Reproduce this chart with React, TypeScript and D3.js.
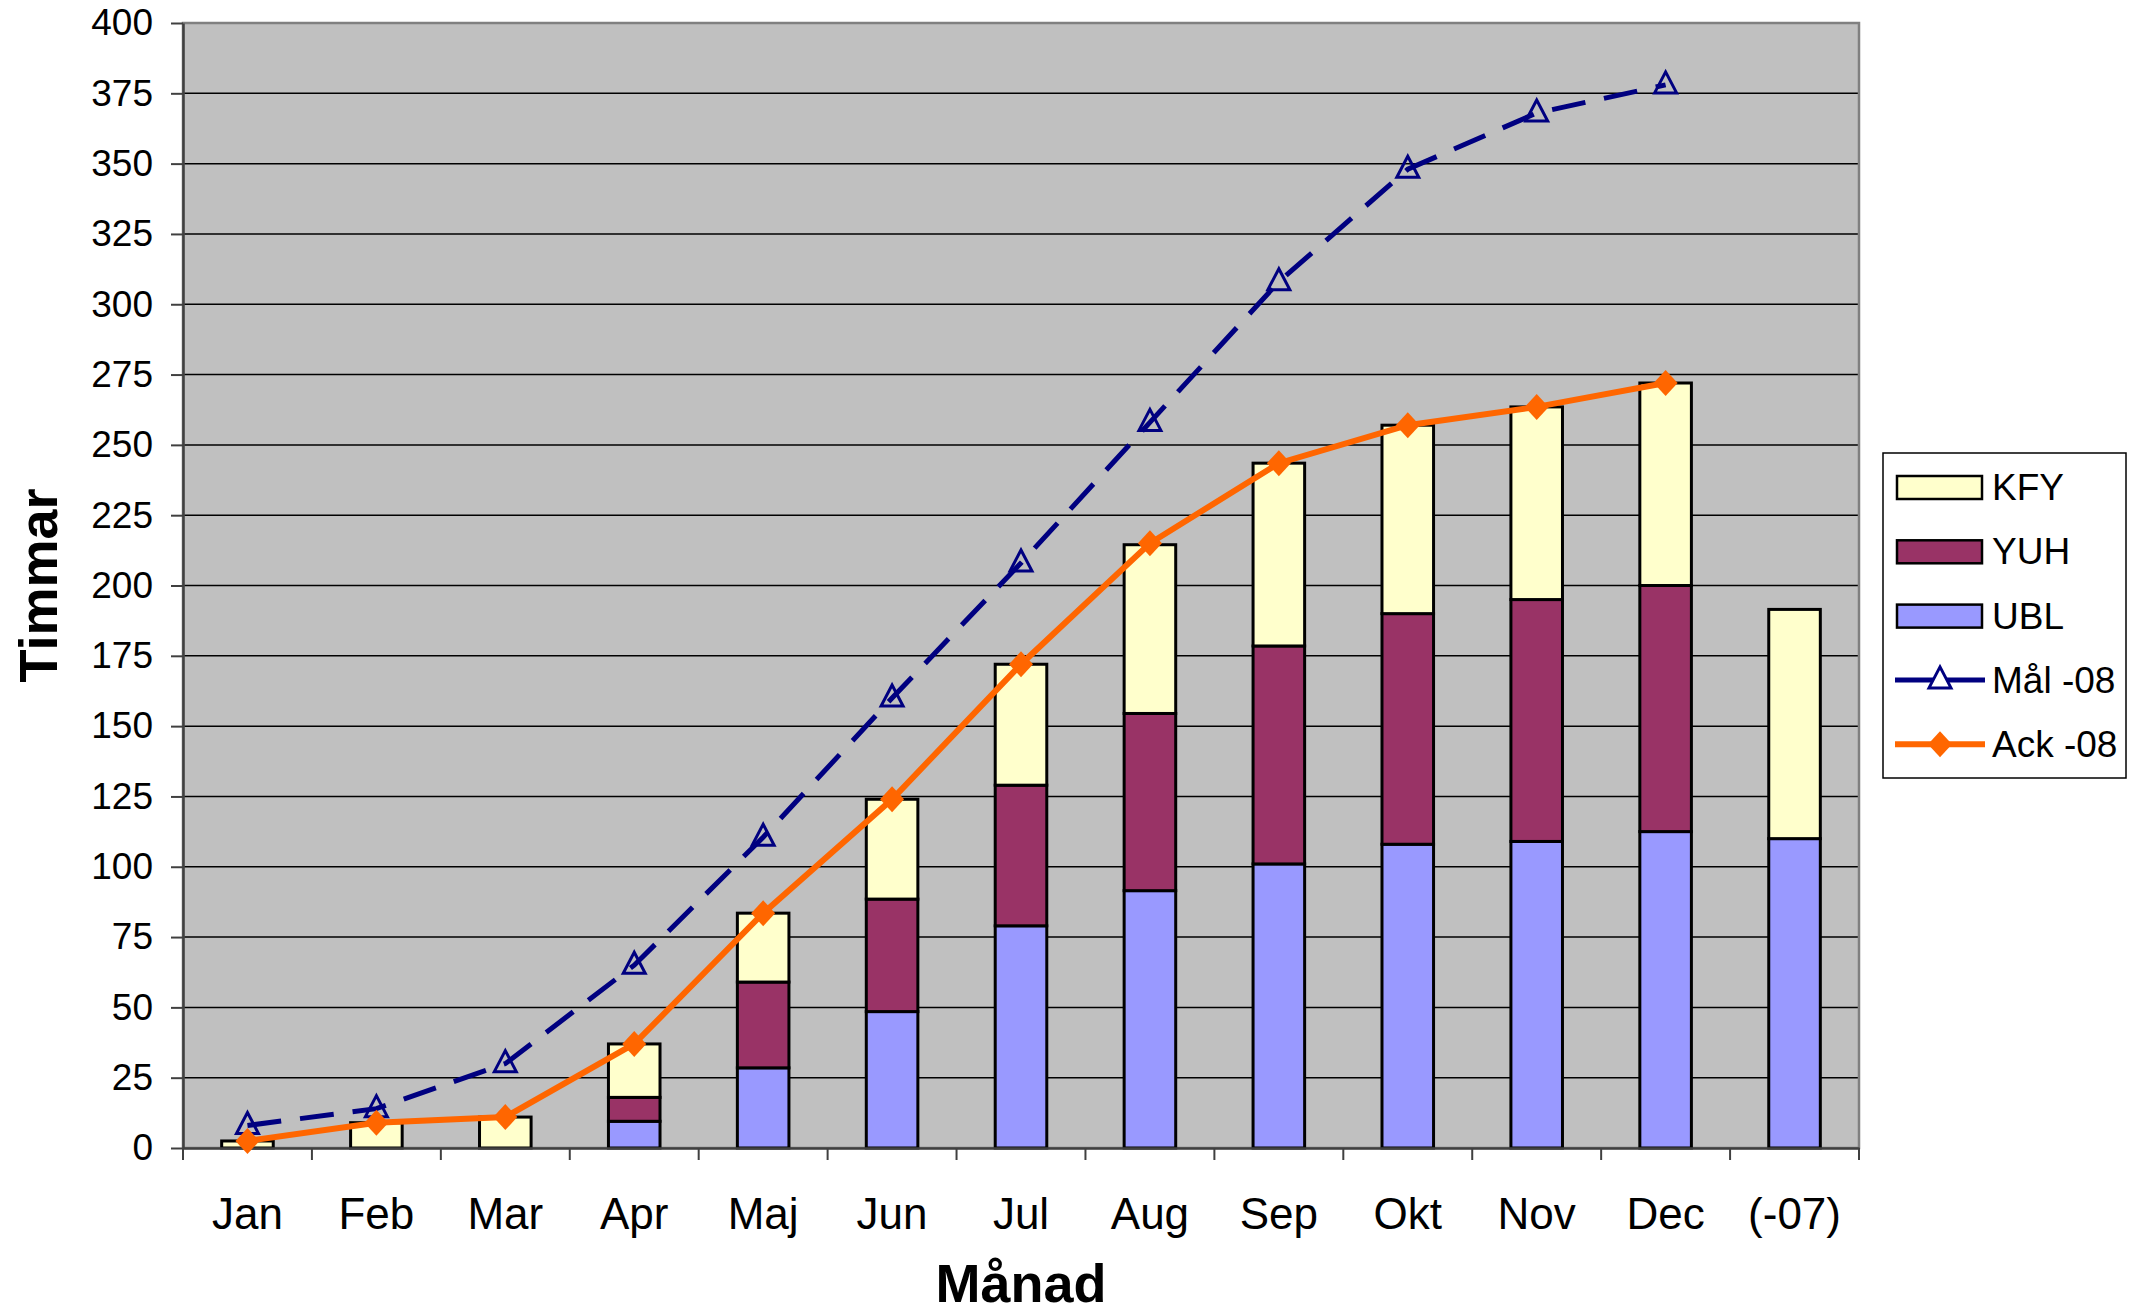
import React, { useEffect, useRef } from 'react';
import * as d3 from 'd3';

// categories and series (hours)
const months = ['Jan', 'Feb', 'Mar', 'Apr', 'Maj', 'Jun', 'Jul', 'Aug', 'Sep', 'Okt', 'Nov', 'Dec', '(-07)'];
const ubl = [0, 0, 0, 9.5, 28.5, 48.5, 79, 91.5, 101, 108, 109, 112.5, 110];
const yuh = [0, 0, 0, 8.5, 30.5, 40, 50, 63, 77.5, 82, 86, 87.5, 0];
const kfy = [2.5, 9, 11, 19, 24.5, 35.5, 43, 60, 65, 67, 68.5, 72, 81.5];
const mal08 = [8, 14, 30, 65, 110.5, 160, 208, 258, 308, 348, 368, 378];
const ack08 = [2.5, 9, 11, 37, 83.5, 124, 172, 215, 243.5, 257, 263.5, 272];
const yTicks = d3.range(0, 401, 25);

const W = 2129;
const H = 1313;
const FONT = '"Liberation Sans", Arial, sans-serif';

const App = () => {
  const svgRef = useRef<SVGSVGElement>(null);

  useEffect(() => {
    const svg = d3.select(svgRef.current);
    svg.selectAll('*').remove();

    const left = 183, top = 23, right = 1859, bottom = 1148;

    const x = d3.scaleBand().domain(months).range([left, right]).paddingInner(0).paddingOuter(0);
    const y = d3.scaleLinear().domain([0, 400]).range([bottom, top]);
    const barW = x.bandwidth() / 2.5;
    const cx = (i: number) => (x(months[i]) as number) + x.bandwidth() / 2;

    // plot background
    svg.append('rect')
      .attr('x', left).attr('y', top)
      .attr('width', right - left).attr('height', bottom - top)
      .attr('fill', '#C0C0C0');

    // gridlines
    svg.append('g')
      .selectAll('line')
      .data(yTicks.slice(1))
      .enter()
      .append('line')
      .attr('x1', left).attr('x2', right)
      .attr('y1', d => y(d)).attr('y2', d => y(d))
      .attr('stroke', '#000').attr('stroke-width', 1.5);

    // plot border
    svg.append('rect')
      .attr('x', left).attr('y', top)
      .attr('width', right - left).attr('height', bottom - top)
      .attr('fill', 'none').attr('stroke', '#808080').attr('stroke-width', 2.5);

    // stacked bars
    const rows = months.map((m, i) => ({ month: m, UBL: ubl[i], YUH: yuh[i], KFY: kfy[i] }));
    const keys = ['UBL', 'YUH', 'KFY'];
    const colors: Record<string, string> = { UBL: '#9999FF', YUH: '#993366', KFY: '#FFFFCC' };
    const stacked = d3.stack<any>().keys(keys)(rows);

    stacked.forEach(layer => {
      svg.append('g')
        .selectAll('rect')
        .data(layer.filter(d => d[1] - d[0] > 0))
        .enter()
        .append('rect')
        .attr('x', d => (x(d.data.month) as number) + (x.bandwidth() - barW) / 2)
        .attr('y', d => y(d[1]))
        .attr('width', barW)
        .attr('height', d => y(d[0]) - y(d[1]))
        .attr('fill', colors[layer.key])
        .attr('stroke', '#000')
        .attr('stroke-width', 3);
    });

    // axes
    const yAxis = d3.axisLeft(y).tickValues(yTicks).tickSize(12).tickSizeOuter(0).tickPadding(18);
    const gy = svg.append('g').attr('transform', `translate(${left},0)`).call(yAxis);
    gy.select('.domain').attr('stroke', '#404040').attr('stroke-width', 2.5);
    gy.selectAll('.tick line').attr('stroke', '#404040').attr('stroke-width', 2);
    gy.selectAll('.tick text').attr('font-family', FONT).attr('font-size', 37).attr('fill', '#000');

    const xAxis = d3.axisBottom(x).tickSize(0).tickPadding(50);
    const gx = svg.append('g').attr('transform', `translate(0,${bottom})`).call(xAxis);
    gx.select('.domain').attr('stroke', '#404040').attr('stroke-width', 2.5);
    gx.selectAll('.tick text').attr('font-family', FONT).attr('font-size', 44).attr('fill', '#000');

    // x tick marks at category boundaries
    svg.append('g')
      .selectAll('line')
      .data(d3.range(months.length + 1))
      .enter()
      .append('line')
      .attr('x1', i => left + i * x.step()).attr('x2', i => left + i * x.step())
      .attr('y1', bottom).attr('y2', bottom + 12)
      .attr('stroke', '#404040').attr('stroke-width', 2);

    // lines
    const line = d3.line<number>()
      .x((d, i) => cx(i))
      .y(d => y(d));

    const triangle = (px: number, py: number) =>
      `M${px},${py - 13}L${px + 11},${py + 8}L${px - 11},${py + 8}Z`;
    const diamond = (px: number, py: number) =>
      `M${px},${py - 13}L${px + 12},${py}L${px},${py + 13}L${px - 12},${py}Z`;

    svg.append('g')
      .selectAll('path')
      .data(mal08)
      .enter()
      .append('path')
      .attr('d', (d, i) => triangle(cx(i), y(d)))
      .attr('fill', 'none')
      .attr('stroke', '#000080')
      .attr('stroke-width', 3);

    svg.append('path')
      .datum(mal08)
      .attr('d', line)
      .attr('fill', 'none')
      .attr('stroke', '#000080')
      .attr('stroke-width', 5)
      .attr('stroke-dasharray', '34,19');

    svg.append('path')
      .datum(ack08)
      .attr('d', line)
      .attr('fill', 'none')
      .attr('stroke', '#FF6600')
      .attr('stroke-width', 6);

    svg.append('g')
      .selectAll('path')
      .data(ack08)
      .enter()
      .append('path')
      .attr('d', (d, i) => diamond(cx(i), y(d)))
      .attr('fill', '#FF6600');

    // axis titles
    svg.append('text')
      .attr('x', (left + right) / 2).attr('y', 1302)
      .attr('text-anchor', 'middle')
      .attr('font-family', FONT).attr('font-size', 54).attr('font-weight', 'bold')
      .text('Månad');

    svg.append('text')
      .attr('transform', `translate(57,${(top + bottom) / 2}) rotate(-90)`)
      .attr('text-anchor', 'middle')
      .attr('font-family', FONT).attr('font-size', 54).attr('font-weight', 'bold')
      .text('Timmar');

    // legend
    const lg = svg.append('g');
    lg.append('rect')
      .attr('x', 1883).attr('y', 453).attr('width', 243).attr('height', 325)
      .attr('fill', '#fff').attr('stroke', '#000').attr('stroke-width', 1.5);

    const items = [
      { name: 'KFY', type: 'bar', color: colors.KFY },
      { name: 'YUH', type: 'bar', color: colors.YUH },
      { name: 'UBL', type: 'bar', color: colors.UBL },
      { name: 'Mål -08', type: 'mal', color: '#000080' },
      { name: 'Ack -08', type: 'ack', color: '#FF6600' },
    ];
    items.forEach((it, i) => {
      const yy = 487 + i * 64.3;
      if (it.type === 'bar') {
        lg.append('rect')
          .attr('x', 1897).attr('y', yy - 11).attr('width', 85).attr('height', 23)
          .attr('fill', it.color).attr('stroke', '#000').attr('stroke-width', 2.5);
      } else {
        lg.append('line')
          .attr('x1', 1895).attr('x2', 1985).attr('y1', yy).attr('y2', yy)
          .attr('stroke', it.color).attr('stroke-width', it.type === 'ack' ? 6 : 5);
        if (it.type === 'mal') {
          lg.append('path').attr('d', triangle(1940, yy))
            .attr('fill', '#fff').attr('stroke', it.color).attr('stroke-width', 3);
        } else {
          lg.append('path').attr('d', diamond(1940, yy)).attr('fill', it.color);
        }
      }
      lg.append('text')
        .attr('x', 1992).attr('y', yy + 13)
        .attr('font-family', FONT).attr('font-size', 37)
        .text(it.name);
    });
  }, []);

  return (
    <svg
      ref={svgRef}
      width={W}
      height={H}
      style={{ position: 'absolute', left: 0, top: 0, background: '#fff' }}
    />
  );
};

export default App;
